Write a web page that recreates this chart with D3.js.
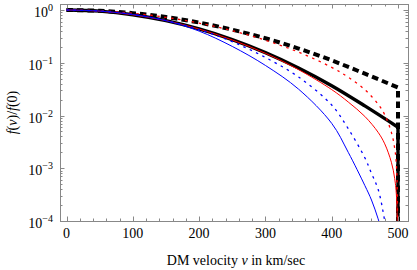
<!DOCTYPE html>
<html>
<head>
<meta charset="utf-8">
<script src="https://cdn.jsdelivr.net/npm/d3@7"></script>
<style>
  body { margin: 0; background: #fff; }
  text { font-family: "Liberation Serif", "DejaVu Serif", serif; fill: #000; }
</style>
</head>
<body>
<svg id="chart" width="417" height="270"></svg>
<script>
// velocities (km/sec) and f(v)/f(0)
var vBlack = [0, 50, 100, 150, 200, 250, 300, 350, 400, 450, 500];
var fBlackSolid = [1, 0.95, 0.813, 0.628, 0.438, 0.275, 0.156, 0.0796, 0.0367, 0.0152, 0.006];
var fBlackDashed = [1, 0.966, 0.872, 0.735, 0.578, 0.424, 0.291, 0.186, 0.111, 0.062, 0.034];

var vRed = [0, 50, 100, 150, 200, 250, 300, 350, 400, 425, 450, 470, 480, 490, 495, 498, 500];
var fRedSolid = [1, 0.95, 0.81, 0.63, 0.435, 0.27, 0.151, 0.074, 0.031, 0.018, 0.0096, 0.0048, 0.0029, 0.0013, 0.00064, 0.00025, 0.000001];
var fRedDashed = [1, 0.965, 0.868, 0.726, 0.564, 0.405, 0.267, 0.159, 0.0817, 0.0532, 0.0308, 0.0164, 0.0103, 0.0048, 0.0024, 0.00093, 0.000001];

var vBlue = [0, 50, 100, 150, 200, 250, 300, 350, 400, 425, 450, 460, 470, 480, 490];
var fBlueSolid = [1, 0.955, 0.822, 0.628, 0.398, 0.204, 0.089, 0.0316, 0.0071, 0.002, 0.00047, 0.00025, 0.00011, 0.00004, 0.00001];
var fBlueDashed = [1, 0.955, 0.822, 0.631, 0.427, 0.251, 0.126, 0.0537, 0.0158, 0.0056, 0.00158, 0.0008, 0.0004, 0.0001, 0.000016];

var xTicks = [0, 100, 200, 300, 400, 500];
var yExps = [0, -1, -2, -3, -4];

var svg = d3.select("#chart");

// frame box
var fLeft = 60, fRight = 408, fTop = 4, fBottom = 221;

var scX = d3.scaleLinear().domain([0, 500]).range([66.5, 398]);
var scY = d3.scaleLog().domain([1e-4, 1]).range([fBottom, 10]);

svg.append("clipPath").attr("id", "plotclip")
  .append("rect")
  .attr("x", fLeft).attr("y", fTop)
  .attr("width", fRight - fLeft).attr("height", fBottom - fTop);

var plot = svg.append("g").attr("clip-path", "url(#plotclip)");

var lnMkr = d3.line().curve(d3.curveCatmullRom.alpha(0.5))
  .x(d => scX(d[0])).y(d => scY(d[1]));

var zip = (vs, fs) => vs.map((v, i) => [v, fs[i]]);

// black curves end with a hard cut at the escape velocity
var cutPath = function (vs, fs) {
  return lnMkr(zip(vs, fs)) + "L" + scX(vs[vs.length - 1]) + "," + scY(1e-6);
};

var series = [
  {d: cutPath(vBlack, fBlackSolid), color: "#000", width: 3.4, dash: null},
  {d: cutPath(vBlack, fBlackDashed), color: "#000", width: 4, dash: "6.5,4"},
  {d: lnMkr(zip(vRed, fRedSolid)), color: "#ff0000", width: 1, dash: null},
  {d: lnMkr(zip(vRed, fRedDashed)), color: "#ff0000", width: 1.3, dash: "2.5,4.5"},
  {d: lnMkr(zip(vBlue, fBlueSolid)), color: "#0000ff", width: 1, dash: null},
  {d: lnMkr(zip(vBlue, fBlueDashed)), color: "#0000ff", width: 1.3, dash: "2.5,4.5"}
];

series.forEach(function (s) {
  plot.append("path")
    .attr("d", s.d)
    .attr("fill", "none")
    .attr("stroke", s.color)
    .attr("stroke-width", s.width)
    .attr("stroke-dasharray", s.dash);
});

// frame and ticks
var frameCol = "#888";
var ticks = svg.append("g").attr("stroke", frameCol).attr("stroke-width", 1);

ticks.append("rect")
  .attr("x", fLeft + 0.5).attr("y", fTop + 0.5)
  .attr("width", fRight - fLeft).attr("height", fBottom - fTop)
  .attr("fill", "none");

var xMinor = d3.range(0, 501, 20);
xMinor.forEach(function (v) {
  var len = v % 100 === 0 ? 4.5 : 2.5;
  var px = Math.round(scX(v)) + 0.5;
  ticks.append("line").attr("x1", px).attr("x2", px).attr("y1", fBottom).attr("y2", fBottom - len);
  ticks.append("line").attr("x1", px).attr("x2", px).attr("y1", fTop).attr("y2", fTop + len);
});

var yMinor = [];
yExps.forEach(function (e) {
  for (var m = 1; m < 10; m++) yMinor.push([m * Math.pow(10, e), m === 1]);
});
yMinor.forEach(function (t) {
  var py = scY(t[0]);
  if (py < fTop || py > fBottom) return;
  var len = t[1] ? 4.5 : 2.5;
  py = Math.round(py) + 0.5;
  ticks.append("line").attr("x1", fLeft).attr("x2", fLeft + len).attr("y1", py).attr("y2", py);
  ticks.append("line").attr("x1", fRight).attr("x2", fRight - len).attr("y1", py).attr("y2", py);
});

// tick labels
svg.append("g").selectAll("text").data(xTicks).enter()
  .append("text")
  .attr("x", d => scX(d))
  .attr("y", 238)
  .attr("text-anchor", "middle")
  .attr("font-size", 14)
  .text(d => d);

var yLab = svg.append("g").selectAll("text").data(yExps).enter()
  .append("text")
  .attr("x", 53)
  .attr("y", d => scY(Math.pow(10, d)) + 7)
  .attr("text-anchor", "end")
  .attr("font-size", 14);
yLab.append("tspan").text("10");
yLab.append("tspan")
  .attr("font-size", 10)
  .attr("dy", -6)
  .text(d => d === 0 ? "0" : "\u2212" + (-d));

// axis titles
var xt = svg.append("text")
  .attr("x", 236)
  .attr("y", 265)
  .attr("text-anchor", "middle")
  .attr("font-size", 14);
xt.append("tspan").text("DM velocity ");
xt.append("tspan").attr("font-style", "italic").text("v");
xt.append("tspan").text(" in km/sec");

var yt = svg.append("text")
  .attr("transform", "translate(17," + ((fTop + fBottom) / 2) + ") rotate(-90)")
  .attr("text-anchor", "middle")
  .attr("font-size", 14);
yt.append("tspan").attr("font-style", "italic").text("f");
yt.append("tspan").text("(");
yt.append("tspan").attr("font-style", "italic").text("v");
yt.append("tspan").text(")/");
yt.append("tspan").attr("font-style", "italic").text("f");
yt.append("tspan").text("(0)");
</script>
</body>
</html>
